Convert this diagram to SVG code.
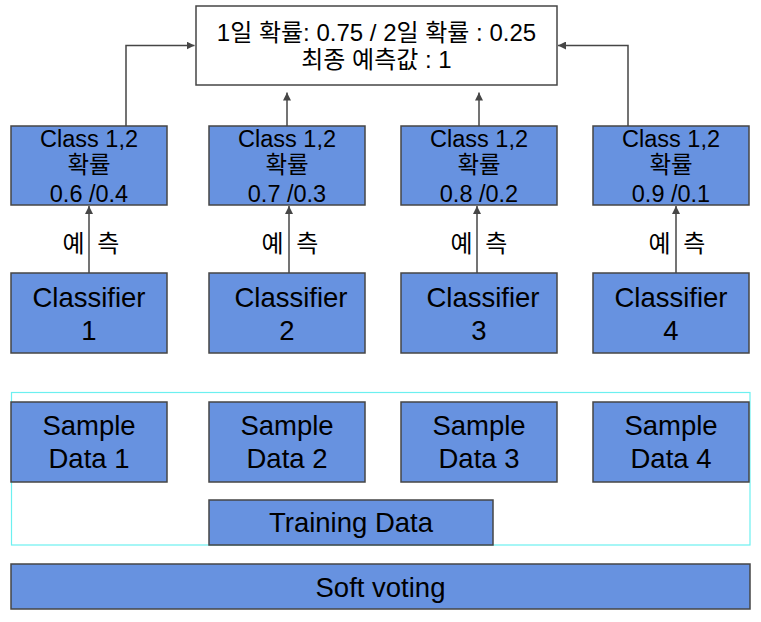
<svg xmlns="http://www.w3.org/2000/svg" width="761" height="622" viewBox="0 0 761 622">
<style>
.box{fill:#6792e0;stroke:#464646;stroke-width:1.5}
.wbox{fill:#ffffff;stroke:#464646;stroke-width:1.5}
.frame{fill:none;stroke:#6cf0f0;stroke-width:1.2}
text{font-family:"Liberation Sans","Noto Sans CJK KR",sans-serif;fill:#000;text-anchor:middle}
.t22{font-size:23.5px}
.tl{font-size:24px}
.t26{font-size:27.5px}
.conn{fill:none;stroke:#464646;stroke-width:1.5}
</style>
<defs>
<marker id="ah" viewBox="0 0 8 8" refX="8" refY="4" markerWidth="8" markerHeight="8" markerUnits="userSpaceOnUse" orient="auto">
<path d="M0,0 L8,4 L0,8 z" fill="#464646"/>
</marker>
</defs>
<rect class="frame" x="11.5" y="392.5" width="738.5" height="152.5"/>
<g id="result">
<rect class="wbox" x="196" y="6" width="361" height="79"/>
<text class="tl" x="376.5" y="41">1일 확률: 0.75 / 2일 확률 : 0.25</text>
<text class="tl" x="376.5" y="68">최종 예측값 : 1</text>
</g>
<g id="prob1">
<rect class="box" x="11" y="126" width="156" height="79"/>
<text class="t22" x="89" y="147">Class 1,2</text>
<text class="t22" x="89" y="173">확률</text>
<text class="t22" x="89" y="202">0.6 /0.4</text>
</g>
<g id="prob2">
<rect class="box" x="209" y="126" width="156" height="79"/>
<text class="t22" x="287" y="147">Class 1,2</text>
<text class="t22" x="287" y="173">확률</text>
<text class="t22" x="287" y="202">0.7 /0.3</text>
</g>
<g id="prob3">
<rect class="box" x="401" y="126" width="156" height="79"/>
<text class="t22" x="479" y="147">Class 1,2</text>
<text class="t22" x="479" y="173">확률</text>
<text class="t22" x="479" y="202">0.8 /0.2</text>
</g>
<g id="prob4">
<rect class="box" x="593" y="126" width="156" height="79"/>
<text class="t22" x="671" y="147">Class 1,2</text>
<text class="t22" x="671" y="173">확률</text>
<text class="t22" x="671" y="202">0.9 /0.1</text>
</g>
<g id="clf1">
<rect class="box" x="11" y="273" width="156" height="80"/>
<text class="t26" x="89" y="307">Classifier</text>
<text class="t26" x="89" y="340">1</text>
</g>
<g id="clf2">
<rect class="box" x="209" y="273" width="156" height="80"/>
<text class="t26" x="291" y="307">Classifier</text>
<text class="t26" x="287" y="340">2</text>
</g>
<g id="clf3">
<rect class="box" x="401" y="273" width="156" height="80"/>
<text class="t26" x="483" y="307">Classifier</text>
<text class="t26" x="479" y="340">3</text>
</g>
<g id="clf4">
<rect class="box" x="593" y="273" width="156" height="80"/>
<text class="t26" x="671" y="307">Classifier</text>
<text class="t26" x="671" y="340">4</text>
</g>
<g id="sample1">
<rect class="box" x="11" y="402" width="156" height="80"/>
<text class="t26" x="89" y="435">Sample</text>
<text class="t26" x="89" y="468">Data 1</text>
</g>
<g id="sample2">
<rect class="box" x="209" y="402" width="156" height="80"/>
<text class="t26" x="287" y="435">Sample</text>
<text class="t26" x="287" y="468">Data 2</text>
</g>
<g id="sample3">
<rect class="box" x="401" y="402" width="156" height="80"/>
<text class="t26" x="479" y="435">Sample</text>
<text class="t26" x="479" y="468">Data 3</text>
</g>
<g id="sample4">
<rect class="box" x="593" y="402" width="156" height="80"/>
<text class="t26" x="671" y="435">Sample</text>
<text class="t26" x="671" y="468">Data 4</text>
</g>
<g id="training">
<rect class="box" x="209" y="500" width="284" height="45"/>
<text class="t26" x="351" y="532">Training Data</text>
</g>
<g id="softvoting">
<rect class="box" x="11" y="564" width="739" height="45"/>
<text class="t26" x="380.5" y="597">Soft voting</text>
</g>
<g id="connectors">
<path class="conn" d="M126,126 V45.5 H194.5" marker-end="url(#ah)"/>
<path class="conn" d="M287,126 V92.5" marker-end="url(#ah)"/>
<path class="conn" d="M479,126 V92.5" marker-end="url(#ah)"/>
<path class="conn" d="M628,126 V45.5 H558" marker-end="url(#ah)"/>
<path class="conn" d="M89,273 V206" marker-end="url(#ah)"/>
<path class="conn" d="M289,273 V206" marker-end="url(#ah)"/>
<path class="conn" d="M477,273 V206" marker-end="url(#ah)"/>
<path class="conn" d="M676,273 V206" marker-end="url(#ah)"/>
<text class="tl" x="91" y="252" word-spacing="6">예 측</text>
<text class="tl" x="290" y="252" word-spacing="6">예 측</text>
<text class="tl" x="479" y="252" word-spacing="6">예 측</text>
<text class="tl" x="677" y="252" word-spacing="6">예 측</text>
</g>
</svg>
